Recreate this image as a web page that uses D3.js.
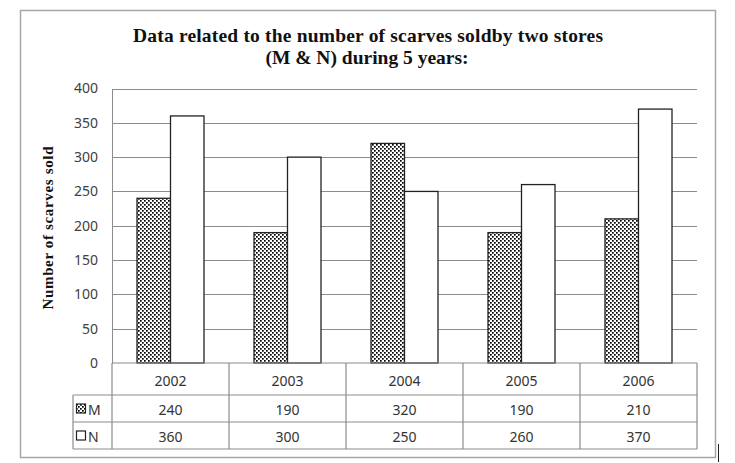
<!DOCTYPE html>
<html><head><meta charset="utf-8">
<script src="https://cdn.jsdelivr.net/npm/d3@7"></script>
<style>
html,body{margin:0;padding:0;background:#fff;}
svg{display:block;}
</style></head>
<body>
<svg id="chart" width="735" height="463"></svg>
<script>
const years = ["2002","2003","2004","2005","2006"];
const seriesNames = ["M","N"];
const valuesM = [240,190,320,190,210];
const valuesN = [360,300,250,260,370];
const yTicks = [0,50,100,150,200,250,300,350,400];
const titleLines = ["Data related to the number of scarves soldby two stores","(M & N) during 5 years:"];
const yTitle = "Number of scarves sold";

const svg = d3.select("#chart");
const defs = svg.append("defs");
const pat = defs.append("pattern").attr("id","dots").attr("patternUnits","userSpaceOnUse")
  .attr("width",4).attr("height",4);
pat.append("rect").attr("width",4).attr("height",4).attr("fill","#fff");
pat.append("rect").attr("x",0).attr("y",0).attr("width",1.7).attr("height",1.7).attr("fill","#000");
pat.append("rect").attr("x",2).attr("y",2).attr("width",1.7).attr("height",1.7).attr("fill","#000");

// outer border
svg.append("rect").attr("x",20.5).attr("y",10.5).attr("width",695).attr("height",447)
  .attr("fill","none").attr("stroke","#a6a6a6").attr("stroke-width",1.5);
// cursor artifact
svg.append("line").attr("x1",718.5).attr("x2",718.5).attr("y1",444).attr("y2",462).attr("stroke","#222").attr("stroke-width",1);

// title
const tt = svg.append("text").attr("text-anchor","middle")
  .attr("font-family","Liberation Serif").attr("font-weight","bold").attr("font-size",19.5).attr("fill","#111");
tt.append("tspan").attr("x",368).attr("y",42).attr("textLength",470).attr("lengthAdjust","spacing").text(titleLines[0]);
tt.append("tspan").attr("x",367).attr("y",64).text(titleLines[1]);

const pLeft = 112, pRight = 697, pTop = 88.5, pBottom = 363;
const x = d3.scaleBand().domain(years).range([pLeft,pRight]);
const y = d3.scaleLinear().domain([0,400]).range([pBottom,pTop]);
const xs = d3.scaleBand().domain(seriesNames).range([0,67]);

// gridlines
svg.append("g").selectAll("line").data(yTicks.filter(d=>d>0)).join("line")
  .attr("x1",pLeft).attr("x2",pRight).attr("y1",d=>Math.round(y(d))+0.5).attr("y2",d=>Math.round(y(d))+0.5)
  .attr("stroke","#8c8c8c").attr("stroke-width",1);

// y axis
const yAxis = d3.axisLeft(y).tickValues(yTicks).tickSize(0).tickPadding(14);
const gy = svg.append("g").attr("transform",`translate(${pLeft},0)`).call(yAxis);
gy.select(".domain").attr("stroke","#8c8c8c");
gy.selectAll("text").attr("font-family","Noto Sans, DejaVu Sans, sans-serif").attr("font-size",14).attr("fill","#404040");

// y title
svg.append("text").attr("transform","translate(53,228) rotate(-90)").attr("text-anchor","middle")
  .attr("font-family","Liberation Serif").attr("font-weight","bold").attr("font-size",15).attr("fill","#111")
  .attr("textLength",163).attr("lengthAdjust","spacing")
  .text(yTitle);

// bars
const data = [];
years.forEach((yr,i)=>{
  data.push({year:yr,s:"M",v:valuesM[i]});
  data.push({year:yr,s:"N",v:valuesN[i]});
});
svg.append("g").selectAll("rect").data(data).join("rect")
  .attr("x",d=>x(d.year)+x.bandwidth()/2-34+xs(d.s)+0.5)
  .attr("y",d=>y(d.v))
  .attr("width",xs.bandwidth())
  .attr("height",d=>pBottom-y(d.v))
  .attr("fill",d=>d.s==="M"?"url(#dots)":"#fff")
  .attr("stroke","#222").attr("stroke-width",1.3);

// data table
const tLeft = 73, rowY = [363,395,422,449];
const tg = svg.append("g").attr("stroke","#8c8c8c").attr("stroke-width",1.2).attr("fill","none");
tg.append("line").attr("x1",pLeft).attr("x2",pRight).attr("y1",rowY[0]).attr("y2",rowY[0]);
[1,2,3].forEach(i=>tg.append("line").attr("x1",tLeft).attr("x2",pRight).attr("y1",rowY[i]).attr("y2",rowY[i]));
tg.append("line").attr("x1",tLeft).attr("x2",tLeft).attr("y1",rowY[1]).attr("y2",rowY[3]);
years.forEach(yr=>tg.append("line").attr("x1",x(yr)).attr("x2",x(yr)).attr("y1",rowY[0]).attr("y2",rowY[3]));
tg.append("line").attr("x1",pRight).attr("x2",pRight).attr("y1",rowY[0]).attr("y2",rowY[3]);

const tf = {family:"Noto Sans, DejaVu Sans, sans-serif", size:14, fill:"#333"};
function cellText(txt,cx,cy){
  svg.append("text").attr("x",cx).attr("y",cy).attr("text-anchor","middle").attr("dominant-baseline","central")
    .attr("font-family",tf.family).attr("font-size",tf.size).attr("fill",tf.fill).text(txt);
}
years.forEach((yr,i)=>{
  const cx = x(yr)+x.bandwidth()/2;
  cellText(yr,cx,(rowY[0]+rowY[1])/2+1);
  cellText(valuesM[i],cx,(rowY[1]+rowY[2])/2+1);
  cellText(valuesN[i],cx,(rowY[2]+rowY[3])/2+1);
});
[["M",1],["N",2]].forEach(([s,r])=>{
  const cy = (rowY[r]+rowY[r+1])/2;
  svg.append("rect").attr("x",76.5).attr("y",cy-4.5).attr("width",9).attr("height",9)
    .attr("fill",s==="M"?"url(#dots)":"#fff").attr("stroke","#222").attr("stroke-width",1.2);
  svg.append("text").attr("x",88).attr("y",cy+1).attr("dominant-baseline","central")
    .attr("font-family",tf.family).attr("font-size",tf.size).attr("fill",tf.fill).text(s);
});
</script>
</body></html>
